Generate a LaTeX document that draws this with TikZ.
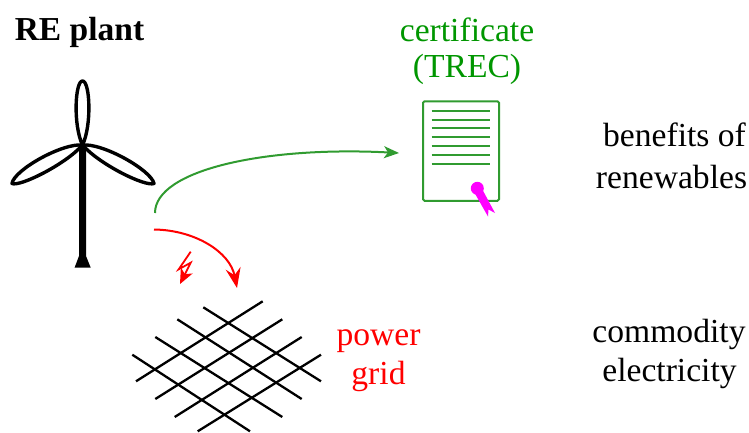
\documentclass[tikz,border=0pt]{standalone}
\usepackage{fontspec}
\setmainfont{Liberation Serif}
\usetikzlibrary{arrows.meta}
\definecolor{certgreen}{RGB}{48,155,48}
\definecolor{txtgreen}{RGB}{0,150,0}
\definecolor{sealpink}{RGB}{255,0,255}
\tikzset{x=1pt,y=-1pt,
  lbl/.style={inner sep=0pt,font=\fontsize{33.6}{36}\selectfont,anchor=base},
  blade/.style={draw=black,line width=3.4pt,line join=round},
  gridline/.style={draw=black,line width=2.3pt},
  certline/.style={draw=certgreen,line width=2pt},
  flow/.style={line width=2pt},
}
\begin{document}
\begin{tikzpicture}
\useasboundingbox (0,0) rectangle (749,432);
% turbine
\coordinate (hub) at (82.5,145);
\coordinate (tipU) at (82.5,81);
\coordinate (tipL) at (12,183.5);
\coordinate (tipR) at (154,183.5);
\fill[black] (79,145) -- (86,145) -- (86,256) -- (90.7,267.6) -- (74.6,267.6) -- (79,256) -- cycle;
\path[blade] (hub) .. controls (73,125) and (75,81) .. (tipU) .. controls (90,81) and (92,125) .. (hub);
\path[blade] (hub) .. controls (62,143) and (14,170) .. (tipL) .. controls (20,187) and (66,164) .. (hub);
\path[blade] (hub) .. controls (103,143) and (151,170) .. (tipR) .. controls (145,187) and (99,164) .. (hub);
% certificate
\node[draw=certgreen,line width=2pt,rounded corners=1.5pt,minimum width=76pt,minimum height=99.5pt,inner sep=0pt] (cert) at (461,151) {};
\foreach \yy in {110.7,119.5,128.3,137.1,146,154.8,163.7}
  \draw[certline] (431.7,\yy) -- (490.3,\yy);
\fill[sealpink] (473.5,191) -- (481,187) -- (495,213) -- (488.5,209.5) -- (488,216.5) -- cycle;
\node[circle,fill=sealpink,inner sep=0pt,minimum size=13pt] (seal) at (477.3,188.3) {};
% grid
\foreach \a/\b/\c/\d in {203.3/307.3/321/381.3,177.3/319.3/301.7/399,155.3/337/282.3/417,132.3/354.7/250/431.3,262.7/301.3/136/381.3,282.3/319.3/155.3/399,301.7/337/174.7/417,321/354.7/197.7/431.3}
  \draw[gridline] (\a,\b) -- (\c,\d);
% flows
\coordinate (gs) at (155,213);
\coordinate (ge) at (399,153);
\coordinate (rs) at (154,229.5);
\coordinate (re) at (237,288);
\draw[flow,draw=certgreen,-{Stealth[length=15pt,width=12pt,inset=4pt]}] (gs) .. controls (155,170) and (265,146) .. (ge);
\draw[flow,draw=red,-{Stealth[length=20pt,width=15pt,inset=7pt]}] (rs) .. controls (195,230) and (230,252) .. (re);
\draw[draw=red,line width=1.8pt,line join=miter,-{Stealth[length=15pt,width=13pt,inset=4pt]}] (190.7,251.7) -- (178.7,269.3) -- (190.7,262.7) -- (180,284);
% labels
\node[lbl,font=\fontsize{33.5}{36}\selectfont\bfseries] (replant) at (79.5,40) {RE plant};
\node[lbl,text=txtgreen] (c1) at (467,41) {certificate};
\node[lbl,text=txtgreen] (c2) at (467,77) {(TREC)};
\node[lbl] (b1) at (674.5,146) {benefits of};
\node[lbl] (b2) at (671.5,188) {renewables};
\node[lbl,text=red] (p1) at (378.5,345) {power};
\node[lbl,text=red] (p2) at (378.5,384) {grid};
\node[lbl] (e1) at (669,342) {commodity};
\node[lbl] (e2) at (669.5,381) {electricity};
\end{tikzpicture}
\end{document}
